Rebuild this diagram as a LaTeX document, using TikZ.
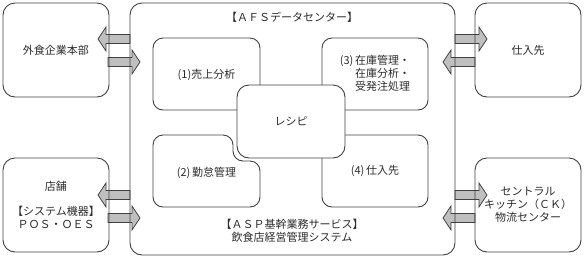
\documentclass[tikz,border=0pt]{standalone}
\usepackage{fontspec}
\setmainfont{Noto Sans CJK JP}
\definecolor{lc}{HTML}{404040}
\definecolor{af}{HTML}{BFBFBF}
\definecolor{tc}{HTML}{2A2A2A}
\newcommand{\blockarr}[4]{% tail x, head base x, tip x, y
  \draw[arrshape] (#1,#4-4.5) -- (#2,#4-4.5) -- (#2,#4-12) -- (#3,#4) -- (#2,#4+12) -- (#2,#4+4.5) -- (#1,#4+4.5) -- cycle;}
\begin{document}
\begin{tikzpicture}[x=1pt,y=-1pt,
  every node/.style={font=\fontsize{11}{13}\selectfont, text=tc},
  outerbox/.style={draw=lc, line width=0.9pt, rounded corners=12pt, inner sep=0pt, align=center},
  innerbox/.style={draw=lc, line width=0.9pt, rounded corners=10pt, inner sep=0pt, align=center},
  ln/.style={draw=lc, line width=0.9pt},
  arrshape/.style={draw=lc, fill=af, line width=0.8pt, line join=miter}
]
\useasboundingbox (0,0) rectangle (584,266);

% block arrows (drawn first, box lines on top)
\blockarr{130}{106}{98}{39}
\blockarr{108}{132}{140}{62}
\blockarr{455}{479}{487}{39}
\blockarr{475}{451}{443}{62}
\blockarr{130}{106}{98}{195}
\blockarr{108}{132}{140}{218}
\blockarr{455}{479}{487}{195}
\blockarr{475}{451}{443}{218}

% outer boxes
\node[outerbox, minimum width=106pt, minimum height=94pt] (hq) at (56,50) {外食企業本部};
\node[outerbox, minimum width=106pt, minimum height=94pt] (shop) at (56,205) {店舗\\[12pt]【システム機器】\\ＰＯＳ・ＯＥＳ};
\node[outerbox, minimum width=106pt, minimum height=94pt] (supp) at (528,50) {仕入先};
\node[outerbox, minimum width=106pt, minimum height=94pt] (ck) at (528,205) {セントラル\\キッチン（ＣＫ）\\物流センター};

% main box
\node[outerbox, minimum width=325pt, minimum height=252pt] (afs) at (292.5,129) {};
\node (afstitle) at (292,17) {【ＡＦＳデータセンター】};
\node[align=center] (asp) at (292,231) {【ＡＳＰ基幹業務サービス】\\飲食店経営管理システム};

% inner boxes
\node[innerbox, minimum width=107pt, minimum height=72pt] (m1) at (206.5,74) {};
\node (m1t) at (206.5,75) {(1)売上分析};
\node[innerbox, minimum width=106pt, minimum height=72pt] (m3) at (375,74) {(3)\,在庫管理・\\\phantom{(3)\,}在庫分析・\\\phantom{(3)\,}受発注処理};
\node[innerbox, minimum width=106pt, minimum height=72pt] (m4) at (375,171) {(4)\,仕入先};
\draw[ln, rounded corners=10pt] (190,135) -- (153,135) -- (153,207) -- (260,207) -- (260,161) -- (233,161) -- (233,135) -- cycle;
\node (m2) at (206.5,173) {(2)\,勤怠管理};

% recipe box on top
\node[innerbox, fill=white, rounded corners=12pt, minimum width=108pt, minimum height=73pt] (recipe) at (291,121.5) {レシピ};
\end{tikzpicture}
\end{document}
